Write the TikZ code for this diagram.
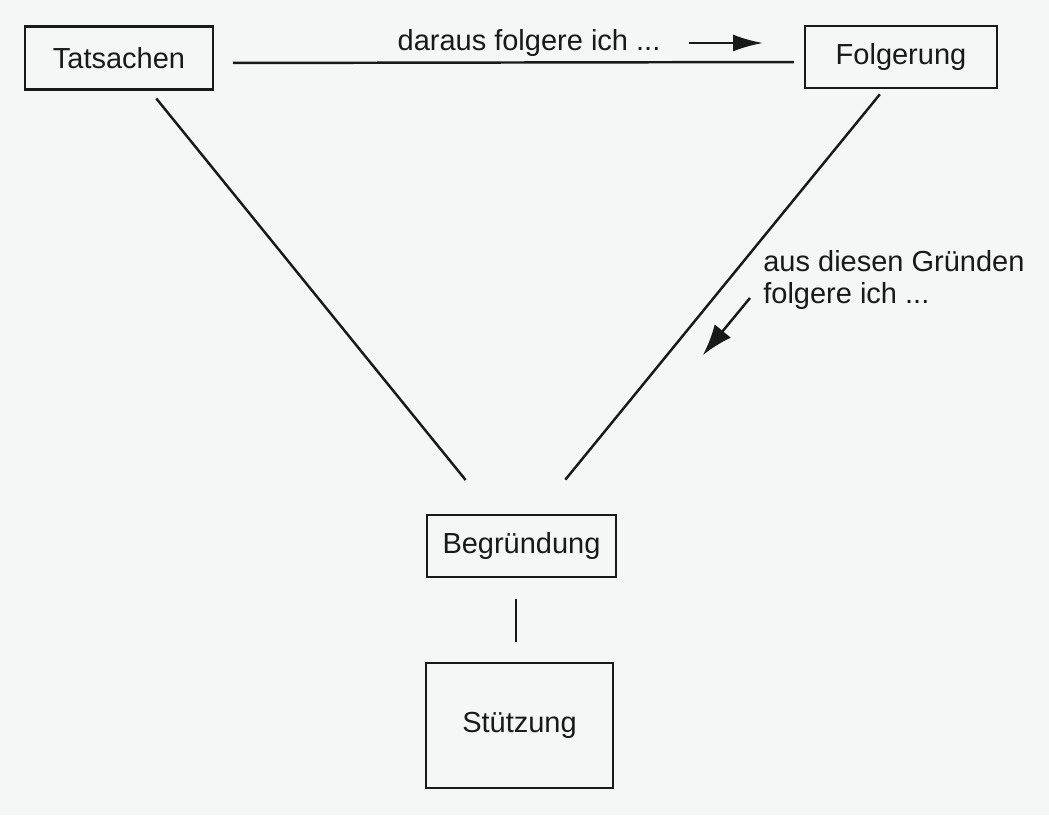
\documentclass[tikz,border=0pt]{standalone}
\usepackage{fontspec}
\setmainfont{Liberation Sans}
\usepackage{tikz}
\usetikzlibrary{positioning, arrows, arrows.meta}
\definecolor{paper}{RGB}{245,247,247}
\definecolor{ink}{RGB}{25,25,25}

\begin{document}
\begin{tikzpicture}[box/.style={rectangle, draw=ink, line width=1.4pt, inner sep=0pt, minimum height=1.26cm},
                    lbl/.style={inner sep=0pt, text=ink, font=\fontsize{16.5}{18.5}\selectfont},
                    conn/.style={draw=ink, line width=1.4pt}]
	\fill[paper] (0,0) rectangle (20.98,-16.3);
	\useasboundingbox (0,0) rectangle (20.98,-16.3);

	\node[box, lbl, minimum width=3.76cm] (tats) at (2.38,-1.16) {Tatsachen};
	\node[box, lbl, minimum width=3.84cm, minimum height=1.24cm] (folg) at (18.02,-1.14) {Folgerung};
	\node[box, lbl, minimum width=3.78cm, minimum height=1.24cm] (begr) at (10.43,-10.92) {Begründung};
	\node[box, lbl, minimum width=3.74cm, minimum height=2.5cm] (stuetz) at (10.39,-14.51) {Stützung};

	\node[lbl] (daraus) at (10.58,-0.86) {daraus folgere ich ...};
	\node[lbl, align=left, anchor=north west] (gruende) at (15.26,-5.0) {aus diesen Gründen\\folgere ich ...};

	\coordinate (p1) at (13.78,-0.86);
	\coordinate (p2) at (15.26,-0.86);
	\coordinate (q1) at (15.0,-5.96);
	\coordinate (q2) at (14.06,-7.1);

	\draw[conn, shorten <=0.38cm, shorten >=0.2cm] ([yshift=-0.1cm]tats.east) -- ([yshift=-0.1cm]folg.west);
	\draw[conn, shorten <=0.2cm, shorten >=0.87cm] ([xshift=0.62cm]tats.south) -- ([xshift=-0.57cm]begr.north);
	\draw[conn, shorten <=0.13cm, shorten >=0.88cm] ([xshift=-0.34cm]folg.south) -- ([xshift=0.32cm]begr.north);
	\draw[conn, shorten <=0.42cm, shorten >=0.4cm] ([xshift=-0.11cm]begr.south) -- ([xshift=-0.11cm]begr.south |- stuetz.north);

	\draw[conn, -{Latex[length=0.6cm, width=0.34cm]}] (p1) -- (p2);
	\draw[conn, -{Latex[length=0.62cm, width=0.42cm]}] (q1) -- (q2);
\end{tikzpicture}
\end{document}
